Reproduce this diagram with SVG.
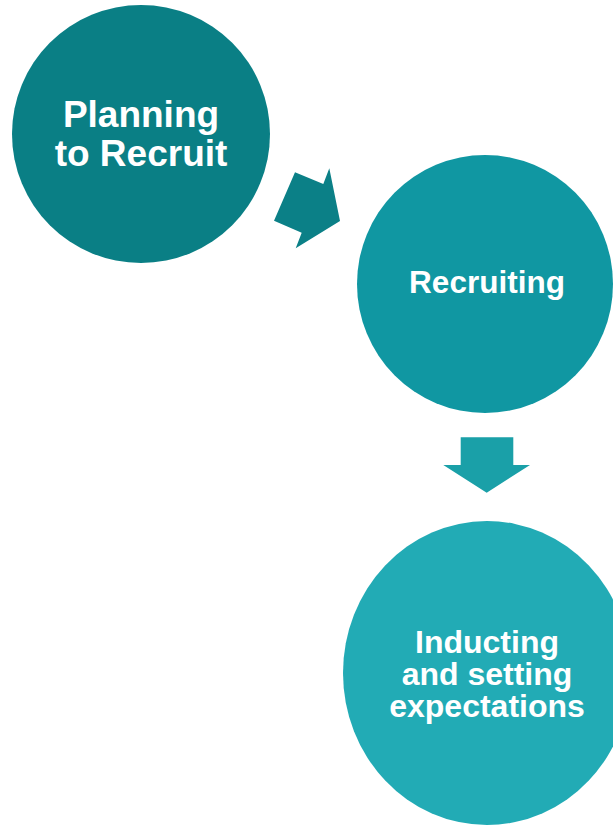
<svg xmlns="http://www.w3.org/2000/svg" width="613" height="827" viewBox="0 0 613 827">
<style>
.lbl{font-family:"Liberation Sans",Arial,sans-serif;font-weight:bold;fill:#ffffff;text-anchor:middle}
</style>
<rect width="613" height="827" fill="#ffffff"/>
<g id="connectors">
<polygon points="295,172.3 323.3,184 329.3,168.3 340,221 295.7,248.3 301.7,232.7 274,220.7" fill="#0b8087"/>
<polygon points="460.7,437.3 513.3,437.3 513.3,465 530,465 486.7,492.7 443.3,465 460.7,465" fill="#1aa0a8"/>
</g>
<g id="node-planning">
<circle cx="141" cy="134" r="129" fill="#0a7f85"/>
<text class="lbl" x="141" y="126.7" font-size="37">Planning</text>
<text class="lbl" x="141" y="165.7" font-size="37">to Recruit</text>
</g>
<g id="node-recruiting">
<ellipse cx="485" cy="284" rx="128" ry="129" fill="#1097a2"/>
<text class="lbl" x="487" y="293.3" font-size="31.5">Recruiting</text>
</g>
<g id="node-inducting">
<ellipse cx="487" cy="673" rx="144" ry="152" fill="#22abb5"/>
<text class="lbl" x="487" y="652.7" font-size="32">Inducting</text>
<text class="lbl" x="487" y="685" font-size="32">and setting</text>
<text class="lbl" x="487" y="716.7" font-size="32">expectations</text>
</g>
</svg>
